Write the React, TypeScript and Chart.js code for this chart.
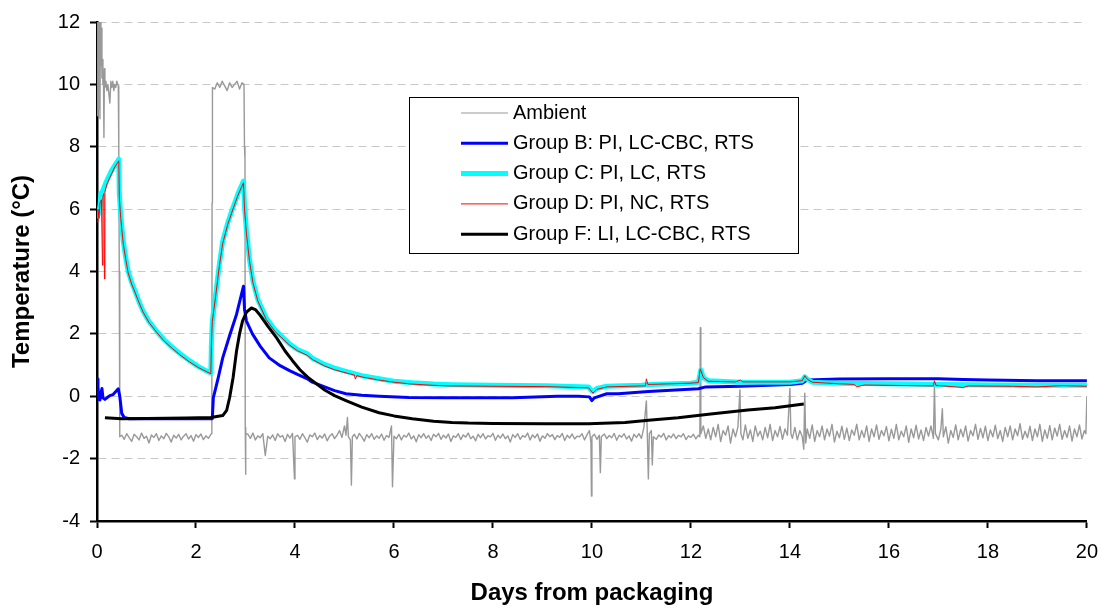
import React, { useEffect, useRef } from "react";
import { Chart, registerables } from "chart.js";

Chart.register(...registerables);

const FONT = "'Liberation Sans', Arial, Helvetica, sans-serif";

const seriesLabels = [
  "Ambient",
  "Group B: PI, LC-CBC, RTS",
  "Group C: PI, LC, RTS",
  "Group D: PI, NC, RTS",
  "Group F: LI, LC-CBC, RTS",
];
const seriesColors = ["#999999", "#0000ff", "#00ffff", "#ff0000", "#000000"];
const seriesWidths = [1.4, 3, 5, 1, 3];

const xTicks = [0, 2, 4, 6, 8, 10, 12, 14, 16, 18, 20];
const yTicks = [-4, -2, 0, 2, 4, 6, 8, 10, 12];

// Ambient temperature readings [day, °C]
const ambient: [number, number][] = [
  [0, 9.0], [0.01, 12.5], [0.02, 11.0], [0.03, 12.5], [0.04, 9.2], [0.05, 12.5], [0.06, 8.9], [0.07, 12.5], [0.08, 10.6], [0.09, 11.8],
  [0.1, 10.2], [0.11, 10.8], [0.12, 10.0], [0.13, 10.4], [0.14, 8.3], [0.15, 10.5], [0.16, 9.9], [0.18, 10.1], [0.2, 9.8], [0.22, 10.0],
  [0.24, 9.7], [0.26, 9.4], [0.28, 10.1], [0.3, 9.9], [0.32, 10.1], [0.34, 9.8], [0.36, 10.0], [0.38, 9.9], [0.4, 10.1], [0.42, 10.0],
  [0.43, 9.95], [0.44, 8.0], [0.45, 4.0], [0.46, -1.3],
  [0.5, -1.25], [0.55, -1.38], [0.6, -1.2], [0.65, -1.33], [0.7, -1.45], [0.75, -1.22], [0.8, -1.3], [0.85, -1.4], [0.9, -1.18], [0.95, -1.35],
  [1.0, -1.28], [1.05, -1.5], [1.1, -1.24], [1.15, -1.32], [1.2, -1.2], [1.25, -1.42], [1.3, -1.27], [1.35, -1.36], [1.4, -1.19], [1.45, -1.3],
  [1.5, -1.47], [1.55, -1.25], [1.6, -1.34], [1.65, -1.22], [1.7, -1.4], [1.75, -1.28], [1.8, -1.2], [1.85, -1.37], [1.9, -1.26], [1.95, -1.44],
  [2.0, -1.23], [2.05, -1.32], [2.1, -1.21], [2.15, -1.39], [2.2, -1.27], [2.25, -1.35], [2.3, -1.22],
  [2.32, -1.2], [2.325, 6.2], [2.33, 6.3], [2.335, 9.9], [2.38, 9.85], [2.43, 10.05], [2.48, 9.9], [2.53, 10.1], [2.58, 9.95], [2.63, 9.8],
  [2.68, 10.05], [2.73, 9.9], [2.78, 10.0], [2.83, 10.1], [2.88, 9.85], [2.93, 10.05], [2.97, 10.0], [2.98, 8.0], [2.99, 7.6], [2.995, -1.0],
  [3.0, -2.5], [3.01, -1.2],
  [3.05, -1.22], [3.1, -1.35], [3.15, -1.18], [3.2, -1.4], [3.25, -1.27], [3.3, -1.33], [3.35, -1.2], [3.4, -1.9], [3.45, -1.28], [3.5, -1.36],
  [3.55, -1.24], [3.6, -1.42], [3.65, -1.2], [3.7, -1.31], [3.75, -1.26], [3.8, -1.45], [3.85, -1.22], [3.9, -1.34], [3.95, -1.19], [3.99, -2.65],
  [4.0, -1.3], [4.05, -1.25], [4.1, -1.38], [4.15, -1.2], [4.2, -1.33], [4.25, -1.47], [4.3, -1.24], [4.35, -1.3], [4.4, -1.18], [4.45, -1.39],
  [4.5, -1.26], [4.55, -1.34], [4.6, -1.21], [4.65, -1.43], [4.7, -1.28], [4.75, -1.2], [4.8, -1.36], [4.85, -1.25], [4.9, -1.1], [4.95, -1.32],
  [5.0, -0.95], [5.03, -1.25], [5.06, -0.68], [5.08, -1.3], [5.12, -1.4], [5.14, -2.85], [5.16, -1.3], [5.2, -1.22], [5.25, -1.37], [5.3, -1.19],
  [5.35, -1.3], [5.4, -1.44], [5.45, -1.23], [5.5, -1.33], [5.55, -1.2], [5.6, -1.38], [5.65, -1.27], [5.7, -1.35], [5.75, -1.21], [5.8, -1.41],
  [5.85, -1.26], [5.9, -1.32], [5.95, -0.95], [5.97, -2.9], [6.0, -1.28], [6.05, -1.36], [6.1, -1.22], [6.15, -1.4], [6.2, -1.25], [6.25, -1.31],
  [6.3, -1.18], [6.35, -1.37], [6.4, -1.27], [6.45, -1.46], [6.5, -1.23], [6.55, -1.33], [6.6, -1.2], [6.65, -1.35], [6.7, -1.26], [6.75, -1.42],
  [6.8, -1.22], [6.85, -1.3], [6.9, -1.19], [6.95, -1.38], [7.0, -1.25], [7.05, -1.34], [7.1, -1.21], [7.15, -1.45], [7.2, -1.27], [7.25, -1.32],
  [7.3, -1.2], [7.35, -1.39], [7.4, -1.24], [7.45, -1.31], [7.5, -1.18], [7.55, -1.36], [7.6, -1.28], [7.65, -1.43], [7.7, -1.22], [7.75, -1.33],
  [7.8, -1.2], [7.85, -1.37], [7.9, -1.26], [7.95, -1.3], [8.0, -1.19], [8.05, -1.41], [8.1, -1.25], [8.15, -1.34], [8.2, -1.21], [8.25, -1.36],
  [8.3, -1.27], [8.35, -1.47], [8.4, -1.23], [8.45, -1.32], [8.5, -1.2], [8.55, -1.38], [8.6, -1.26], [8.65, -1.31], [8.7, -1.18], [8.75, -1.4],
  [8.8, -1.24], [8.85, -1.33], [8.9, -1.21], [8.95, -1.44], [9.0, -1.27], [9.05, -1.35], [9.1, -1.2], [9.15, -1.3], [9.2, -1.23], [9.25, -1.39],
  [9.3, -1.26], [9.35, -1.32], [9.4, -1.19], [9.45, -1.42], [9.5, -1.25], [9.55, -1.34], [9.6, -1.21], [9.65, -1.37], [9.7, -1.28], [9.75, -1.3],
  [9.8, -1.2], [9.85, -1.4], [9.9, -1.24], [9.95, -1.1], [9.98, -1.5], [9.99, -3.2], [10.0, -1.3], [10.05, -1.22], [10.1, -1.38], [10.15, -1.25],
  [10.17, -2.45], [10.19, -1.3], [10.25, -1.21], [10.3, -1.36], [10.35, -1.26], [10.4, -1.33], [10.45, -1.19], [10.5, -1.41], [10.55, -1.25], [10.6, -1.31],
  [10.65, -1.2], [10.7, -1.37], [10.75, -1.27], [10.8, -1.44], [10.85, -1.22], [10.9, -1.32], [10.95, -1.2], [11.0, -1.35], [11.05, -1.0], [11.1, -0.15],
  [11.12, -1.3], [11.14, -2.65], [11.16, -1.2], [11.2, -1.1], [11.22, -2.2], [11.24, -1.3], [11.3, -1.38], [11.35, -1.24], [11.4, -1.31], [11.45, -1.19],
  [11.5, -1.4], [11.55, -1.26], [11.6, -1.33], [11.65, -1.21], [11.7, -1.36], [11.75, -1.25], [11.8, -1.3], [11.85, -1.2], [11.9, -1.39], [11.95, -1.27],
  [12.0, -1.32], [12.05, -1.22], [12.1, -1.37], [12.15, -1.25], [12.18, -1.3], [12.19, 2.2], [12.2, -1.2],
  [12.25, -0.95], [12.3, -1.35], [12.35, -1.05], [12.4, -1.4], [12.45, -1.0], [12.5, -1.3], [12.55, -0.9], [12.6, -1.45], [12.65, -1.1], [12.7, -1.25],
  [12.75, -0.95], [12.8, -1.5], [12.85, -1.05], [12.9, -1.3], [12.95, -0.98], [12.99, 0.2], [13.01, -1.2], [13.05, -1.4], [13.1, -0.92], [13.15, -1.35],
  [13.2, -1.08], [13.25, -1.45], [13.3, -0.95], [13.35, -1.28], [13.4, -1.12], [13.45, -1.4], [13.5, -1.0], [13.55, -1.33], [13.6, -0.9], [13.65, -1.42],
  [13.7, -1.1], [13.75, -1.3], [13.8, -0.97], [13.85, -1.38], [13.9, -1.05], [13.95, -1.25], [14.0, 0.25], [14.02, -1.2], [14.05, -1.35], [14.1, -1.0],
  [14.15, -1.4], [14.2, -1.1], [14.25, -1.3], [14.28, -1.7], [14.3, 0.1], [14.32, -1.5], [14.35, -1.05], [14.4, -1.35], [14.45, -0.92], [14.5, -1.45],
  [14.55, -1.1], [14.6, -1.3], [14.65, -0.95], [14.7, -1.4], [14.75, -1.05], [14.8, -1.28], [14.85, -0.9], [14.9, -1.47], [14.95, -1.12], [15.0, -1.33],
  [15.05, -0.96], [15.1, -1.38], [15.15, -1.02], [15.2, -1.42], [15.25, -1.08], [15.3, -1.25], [15.35, -0.9], [15.4, -1.4], [15.45, -1.1], [15.5, -1.32],
  [15.55, -0.95], [15.6, -1.45], [15.65, -1.05], [15.7, -1.3], [15.75, -0.92], [15.8, -1.38], [15.85, -1.1], [15.9, -1.27], [15.95, -0.97], [16.0, -1.43],
  [16.05, -1.06], [16.1, -1.35], [16.15, -0.9], [16.2, -1.4], [16.25, -1.12], [16.3, -1.3], [16.35, -0.95], [16.4, -1.48], [16.45, -1.05], [16.5, -1.33],
  [16.55, -0.93], [16.6, -1.37], [16.65, -1.08], [16.7, -1.42], [16.75, -1.0], [16.8, -1.28], [16.85, -0.95], [16.9, -1.35], [16.92, 0.35], [16.94, -1.2],
  [17.0, -1.4], [17.05, -1.05], [17.08, -0.4], [17.1, -1.3], [17.15, -0.98], [17.2, -1.5], [17.25, -1.1], [17.3, -1.32], [17.35, -0.92], [17.4, -1.4],
  [17.45, -1.06], [17.5, -1.3], [17.55, -0.95], [17.6, -1.44], [17.65, -1.1], [17.7, -1.27], [17.75, -0.9], [17.8, -1.38], [17.85, -1.03], [17.9, -1.33],
  [17.95, -0.96], [18.0, -1.42], [18.05, -1.08], [18.1, -1.3], [18.15, -0.93], [18.2, -1.36], [18.25, -1.1], [18.3, -1.45], [18.35, -1.0], [18.4, -1.3],
  [18.45, -0.95], [18.5, -1.4], [18.55, -1.05], [18.6, -1.27], [18.65, -0.88], [18.7, -1.38], [18.75, -1.12], [18.8, -1.33], [18.85, -0.96], [18.9, -1.42],
  [18.95, -1.05], [19.0, -1.3], [19.05, -0.9], [19.1, -1.45], [19.15, -1.08], [19.2, -1.35], [19.25, -0.94], [19.3, -1.4], [19.35, -1.02], [19.4, -1.28],
  [19.45, -0.9], [19.5, -1.38], [19.55, -1.1], [19.6, -1.32], [19.65, -0.95], [19.7, -1.44], [19.75, -1.05], [19.8, -1.3], [19.85, -0.92], [19.9, -1.37],
  [19.95, -1.1], [19.98, -1.2], [20.0, 0.0],
];

// Group B (blue)
const groupB: [number, number][] = [
  [0, 0.55], [0.02, 0.3], [0.04, -0.1], [0.06, -0.12], [0.08, 0.1], [0.1, 0.25], [0.12, -0.05], [0.16, -0.1], [0.2, -0.05], [0.26, 0.02],
  [0.32, 0.05], [0.38, 0.15], [0.43, 0.24], [0.46, 0.0], [0.5, -0.55], [0.55, -0.68], [0.65, -0.72], [1.0, -0.72], [2.0, -0.72], [2.33, -0.72],
  [2.35, -0.05], [2.45, 0.6], [2.54, 1.23], [2.68, 1.95], [2.82, 2.63], [2.96, 3.53], [2.98, 2.8], [3.02, 2.41], [3.14, 2.0], [3.3, 1.6],
  [3.48, 1.23], [3.7, 0.98], [3.89, 0.82], [4.05, 0.7], [4.25, 0.56], [4.35, 0.45], [4.6, 0.3], [4.8, 0.18], [5.03, 0.08], [5.35, 0.03],
  [5.7, 0.0], [6.3, -0.04], [7.05, -0.05], [8.4, -0.05], [9.3, 0.0], [9.73, 0.0], [9.95, -0.02], [10.0, -0.14], [10.05, -0.05], [10.3, 0.08],
  [10.53, 0.08], [11.14, 0.15], [12.15, 0.24], [12.3, 0.3], [13.0, 0.32], [14.0, 0.38], [14.25, 0.42], [14.35, 0.52], [15.0, 0.55], [16.0, 0.56],
  [17.0, 0.56], [17.5, 0.54], [18.0, 0.52], [19.0, 0.5], [20.0, 0.5],
];

// Group C (cyan)
const groupC: [number, number][] = [
  [0, 5.7], [0.03, 5.85], [0.06, 6.1], [0.08, 6.5], [0.12, 6.6], [0.18, 6.85], [0.24, 7.05], [0.3, 7.25], [0.36, 7.4], [0.42, 7.55],
  [0.44, 7.6], [0.45, 6.5], [0.48, 5.8], [0.53, 4.97], [0.58, 4.45], [0.63, 4.01], [0.7, 3.65], [0.77, 3.37], [0.85, 3.03], [0.93, 2.73],
  [1.05, 2.4], [1.2, 2.1], [1.35, 1.82], [1.53, 1.56], [1.7, 1.34], [1.87, 1.14], [2.05, 0.95], [2.2, 0.82], [2.3, 0.75], [2.31, 1.6],
  [2.33, 2.41], [2.4, 3.3], [2.47, 4.2], [2.54, 4.97], [2.64, 5.55], [2.74, 6.02], [2.85, 6.5], [2.96, 6.9], [2.98, 6.1], [3.02, 5.3],
  [3.08, 4.4], [3.15, 3.69], [3.25, 3.1], [3.42, 2.51], [3.6, 2.12], [3.89, 1.68], [4.05, 1.5], [4.25, 1.36], [4.35, 1.22], [4.6, 1.02],
  [4.8, 0.9], [5.03, 0.8], [5.35, 0.66], [5.7, 0.56], [6.0, 0.48], [6.37, 0.43], [6.8, 0.39], [7.17, 0.37], [8.0, 0.35], [9.06, 0.34],
  [9.93, 0.3], [9.98, 0.2], [10.02, 0.15], [10.1, 0.25], [10.3, 0.32], [11.0, 0.35], [11.2, 0.38], [12.0, 0.42], [12.15, 0.45], [12.2, 0.85],
  [12.25, 0.6], [12.35, 0.5], [13.0, 0.45], [14.0, 0.45], [14.25, 0.5], [14.3, 0.62], [14.35, 0.55], [14.45, 0.45], [15.0, 0.42], [16.0, 0.4],
  [17.0, 0.38], [18.0, 0.36], [19.0, 0.35], [20.0, 0.35],
];

// Group D (red)
const groupD: [number, number][] = [
  [0, 5.6], [0.02, 6.0], [0.04, 5.7], [0.06, 6.2], [0.09, 6.3], [0.1, 6.3], [0.11, 4.2], [0.12, 6.4], [0.14, 6.5], [0.15, 3.76],
  [0.16, 6.55], [0.2, 6.8], [0.24, 6.95], [0.3, 7.15], [0.36, 7.35], [0.42, 7.5], [0.44, 7.55], [0.45, 6.4], [0.48, 5.7], [0.53, 4.9],
  [0.58, 4.4], [0.63, 3.95], [0.7, 3.6], [0.77, 3.32], [0.85, 3.0], [0.93, 2.7], [1.05, 2.37], [1.2, 2.06], [1.35, 1.78], [1.53, 1.52],
  [1.7, 1.3], [1.87, 1.1], [2.05, 0.92], [2.2, 0.8], [2.3, 0.72], [2.31, 1.6], [2.33, 2.4], [2.4, 3.25], [2.47, 4.15], [2.54, 4.9],
  [2.64, 5.5], [2.74, 5.97], [2.85, 6.45], [2.96, 6.85], [2.98, 6.0], [3.02, 5.2], [3.08, 4.35], [3.15, 3.64], [3.25, 3.05], [3.42, 2.46],
  [3.6, 2.07], [3.89, 1.64], [4.05, 1.46], [4.25, 1.31], [4.35, 1.18], [4.6, 0.97], [4.8, 0.85], [5.03, 0.75], [5.2, 0.68], [5.22, 0.55],
  [5.25, 0.66], [5.35, 0.62], [5.7, 0.52], [6.0, 0.45], [6.37, 0.39], [6.8, 0.35], [7.17, 0.33], [8.0, 0.32], [9.06, 0.31], [9.93, 0.27],
  [9.98, 0.18], [10.02, 0.1], [10.1, 0.22], [10.3, 0.3], [11.0, 0.33], [11.08, 0.33], [11.1, 0.56], [11.13, 0.38], [11.2, 0.38], [12.0, 0.42],
  [12.15, 0.44], [12.19, 0.88], [12.25, 0.6], [12.35, 0.48], [12.9, 0.46], [13.0, 0.52], [13.05, 0.46], [14.0, 0.46], [14.25, 0.5], [14.3, 0.66],
  [14.35, 0.55], [14.45, 0.45], [15.0, 0.4], [15.3, 0.38], [15.35, 0.3], [15.5, 0.36], [16.0, 0.35], [16.9, 0.33], [16.92, 0.5], [16.95, 0.35],
  [17.1, 0.33], [17.5, 0.28], [17.6, 0.33], [18.5, 0.32], [19.0, 0.3], [19.5, 0.34], [20.0, 0.32],
];

// Group F (black)
const groupF: [number, number][] = [
  [0.16, -0.69], [0.5, -0.72], [1.0, -0.71], [1.8, -0.7], [2.3, -0.68], [2.54, -0.62], [2.62, -0.45], [2.68, -0.04], [2.75, 0.6], [2.82, 1.46],
  [2.88, 2.0], [2.94, 2.41], [3.02, 2.7], [3.12, 2.83], [3.2, 2.78], [3.28, 2.63], [3.45, 2.25], [3.63, 1.87], [3.8, 1.45], [3.95, 1.14],
  [4.1, 0.85], [4.25, 0.62], [4.35, 0.5], [4.6, 0.2], [4.8, 0.02], [5.03, -0.14], [5.35, -0.35], [5.7, -0.53], [6.0, -0.63], [6.37, -0.72],
  [6.8, -0.8], [7.17, -0.84], [7.5, -0.86], [8.0, -0.87], [9.06, -0.88], [9.93, -0.88], [10.67, -0.84], [11.2, -0.76], [11.74, -0.69], [12.4, -0.57],
  [13.15, -0.44], [13.7, -0.37], [14.28, -0.25],
];

const seriesData = [ambient, groupB, groupC, groupD, groupF];
const drawOrder = [4, 3, 2, 1, 0];
const legendLineWidths = [1, 3, 5, 1, 3];

const boxLegend = {
  id: "boxLegend",
  afterDatasetsDraw(chart: any) {
    const { ctx, chartArea } = chart;
    const bx = chartArea.left + 312;
    const by = chartArea.top + 75;
    const bw = 389;
    const bh = 156;
    ctx.save();
    ctx.fillStyle = "#ffffff";
    ctx.fillRect(bx, by, bw, bh);
    ctx.strokeStyle = "#000000";
    ctx.lineWidth = 1;
    ctx.strokeRect(bx + 0.5, by + 0.5, bw, bh);
    ctx.font = `20px ${FONT}`;
    ctx.textBaseline = "middle";
    ctx.textAlign = "left";
    chart.data.datasets.forEach((ds: any, i: number) => {
      const y = by + 16 + i * 30.3;
      ctx.strokeStyle = ds.borderColor;
      ctx.lineWidth = legendLineWidths[i];
      ctx.beginPath();
      ctx.moveTo(bx + 52, y);
      ctx.lineTo(bx + 99, y);
      ctx.stroke();
      ctx.fillStyle = "#000000";
      ctx.fillText(ds.label, bx + 104, y);
    });
    ctx.restore();
  },
};

export default function App() {
  const canvasRef = useRef<HTMLCanvasElement | null>(null);

  useEffect(() => {
    if (!canvasRef.current) return;
    const chart = new Chart(canvasRef.current, {
      type: "line",
      data: {
        datasets: seriesData.map((pts, i) => ({
          label: seriesLabels[i],
          data: pts.map(([x, y]) => ({ x, y })),
          borderColor: seriesColors[i],
          backgroundColor: seriesColors[i],
          borderWidth: seriesWidths[i],
          pointRadius: 0,
          tension: 0,
          fill: false,
          order: drawOrder[i],
          borderJoinStyle: "round" as const,
        })),
      },
      options: {
        animation: false,
        responsive: true,
        maintainAspectRatio: false,
        layout: { padding: { top: 20, right: 20, left: 0, bottom: 0 } },
        plugins: {
          legend: { display: false },
          tooltip: { enabled: false },
        },
        scales: {
          x: {
            type: "linear",
            min: 0,
            max: 20,
            afterFit: (s: any) => {
              s.height = 87;
            },
            afterBuildTicks: (s: any) => {
              s.ticks = xTicks.map((v) => ({ value: v }));
            },
            ticks: {
              font: { family: FONT, size: 20 },
              color: "#000000",
              padding: 12,
              maxRotation: 0,
              autoSkip: false,
            },
            grid: {
              drawOnChartArea: false,
              tickLength: 7,
              tickColor: "#000000",
              tickWidth: 2,
            },
            border: { color: "#000000", width: 2.5 },
            title: {
              display: true,
              text: "Days from packaging",
              font: { family: FONT, size: 24, weight: "bold" },
              color: "#000000",
              padding: { top: 0, bottom: 0 },
            },
          },
          y: {
            type: "linear",
            min: -4,
            max: 12,
            afterFit: (s: any) => {
              s.width = 97;
            },
            afterBuildTicks: (s: any) => {
              s.ticks = yTicks.map((v) => ({ value: v }));
            },
            ticks: {
              font: { family: FONT, size: 20 },
              color: "#000000",
              padding: 10,
            },
            grid: {
              color: (c: any) => (c.tick && c.tick.value === -4 ? "rgba(0,0,0,0)" : "#c8c8c8"),
              lineWidth: 1,
              tickLength: 7,
              tickColor: "#000000",
              tickWidth: 2,
            },
            border: { color: "#000000", width: 2.5, dash: [8, 5] },
            title: {
              display: true,
              text: "Temperature (°C)",
              font: { family: FONT, size: 24, weight: "bold" },
              color: "#000000",
              padding: { top: 8, bottom: 0 },
            },
          },
        },
      },
      plugins: [boxLegend],
    });
    return () => chart.destroy();
  }, []);

  return (
    <div style={{ position: "absolute", left: 0, top: 0, width: 1110, height: 608, background: "#ffffff" }}>
      <canvas ref={canvasRef} />
    </div>
  );
}
